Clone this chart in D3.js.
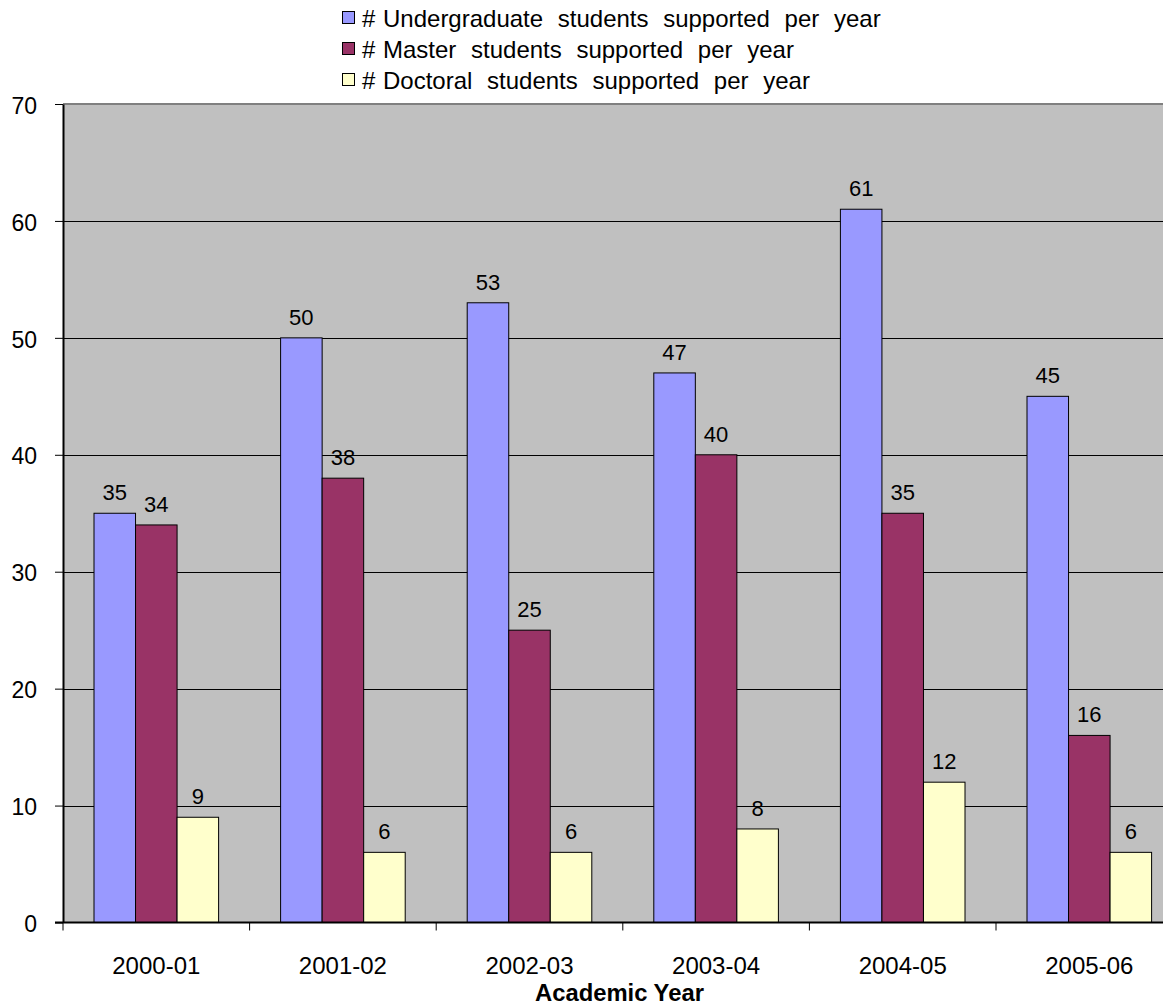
<!DOCTYPE html>
<html><head><meta charset="utf-8">
<script src="https://cdn.jsdelivr.net/npm/d3@7/dist/d3.min.js"></script>
<style>body{margin:0;background:#fff;}svg{display:block;font-family:"Liberation Sans",Arial,sans-serif;}</style>
</head><body>
<script>
const categories = ["2000-01","2001-02","2002-03","2003-04","2004-05","2005-06"];
const seriesNames = ["Undergraduate students supported per year","Master students supported per year","Doctoral students supported per year"];
const undergrad = [35,50,53,47,61,45];
const master = [34,38,25,40,35,16];
const doctoral = [9,6,6,8,12,6];
const yTicks = [0,10,20,30,40,50,60,70];
const colors = ["#9999FF","#993366","#FFFFCC"];

(function(){
const W=1163,H=1005;
const pL=63, pT=104, pB=922.5, pR=63+6*186.6;
const svg=d3.select("body").append("svg").attr("width",W).attr("height",H);
const x=d3.scaleBand().domain(categories).range([pL,pR]).paddingInner(0).paddingOuter(0);
const inner=d3.scaleBand().domain([0,1,2]).range([31,x.bandwidth()-31]);
const y=d3.scaleLinear().domain([0,70]).range([pB,pT]);
const series=[undergrad,master,doctoral];

svg.append("rect").attr("x",pL).attr("y",pT).attr("width",W-pL).attr("height",pB-pT).attr("fill","#C0C0C0");
svg.append("line").attr("x1",pL).attr("x2",W).attr("y1",pT).attr("y2",pT).attr("stroke","#808080").attr("stroke-width",2);
svg.selectAll(".grid").data(yTicks.filter(d=>d>0&&d<70)).enter().append("line")
 .attr("x1",pL).attr("x2",W).attr("y1",d=>Math.round(y(d))+0.5).attr("y2",d=>Math.round(y(d))+0.5).attr("stroke","#000").attr("stroke-width",1);

series.forEach((vals,si)=>{
  const g=svg.append("g");
  g.selectAll("rect").data(vals).enter().append("rect")
   .attr("x",(d,i)=>x(categories[i])+inner(si)).attr("width",inner.bandwidth())
   .attr("y",d=>y(d)).attr("height",d=>pB-y(d))
   .attr("fill",colors[si]).attr("stroke","#000").attr("stroke-width",1);
  g.selectAll("text").data(vals).enter().append("text")
   .attr("x",(d,i)=>x(categories[i])+inner(si)+inner.bandwidth()/2).attr("y",d=>y(d)-13)
   .attr("text-anchor","middle").attr("font-size",22).attr("fill","#000").text(d=>d);
});

const ya=svg.append("g").attr("transform",`translate(${pL},0)`).call(d3.axisLeft(y).tickValues(yTicks).tickSize(8).tickSizeOuter(0).tickPadding(18));
ya.select(".domain").attr("stroke","#000").attr("stroke-width",2);
ya.selectAll(".tick line").attr("stroke","#000");
ya.selectAll("text").attr("font-size",23).attr("dy","0.4em").attr("font-family","Liberation Sans, Arial, sans-serif").attr("fill","#000");
const xa=svg.append("g").attr("transform",`translate(0,${pB})`).call(d3.axisBottom(x).tickSize(0).tickPadding(34));
xa.select(".domain").remove();
xa.selectAll("text").attr("font-size",24).attr("font-family","Liberation Sans, Arial, sans-serif").attr("fill","#000");
svg.append("line").attr("x1",pL-8).attr("x2",W).attr("y1",pB).attr("y2",pB).attr("stroke","#000").attr("stroke-width",2);
svg.selectAll(".xt").data(d3.range(0,7)).enter().append("line")
 .attr("x1",i=>pL+i*x.bandwidth()).attr("x2",i=>pL+i*x.bandwidth()).attr("y1",pB).attr("y2",pB+8).attr("stroke","#000");

svg.append("text").attr("x",535).attr("y",1001).attr("text-anchor","start").attr("font-size",23.8).attr("font-weight","bold").text("Academic Year");

const lg=svg.append("g");
seriesNames.forEach((n,i)=>{
  const by=27+i*31;
  lg.append("rect").attr("x",342.5).attr("y",by-15.5).attr("width",12).attr("height",12).attr("fill",colors[i]).attr("stroke","#000").attr("stroke-width",1);
  lg.append("text").attr("x",362).attr("y",by).attr("font-size",24).text("#");
  lg.append("text").attr("x",383).attr("y",by).attr("font-size",24).attr("word-spacing",8).text(n);
});
})();
</script>
</body></html>
